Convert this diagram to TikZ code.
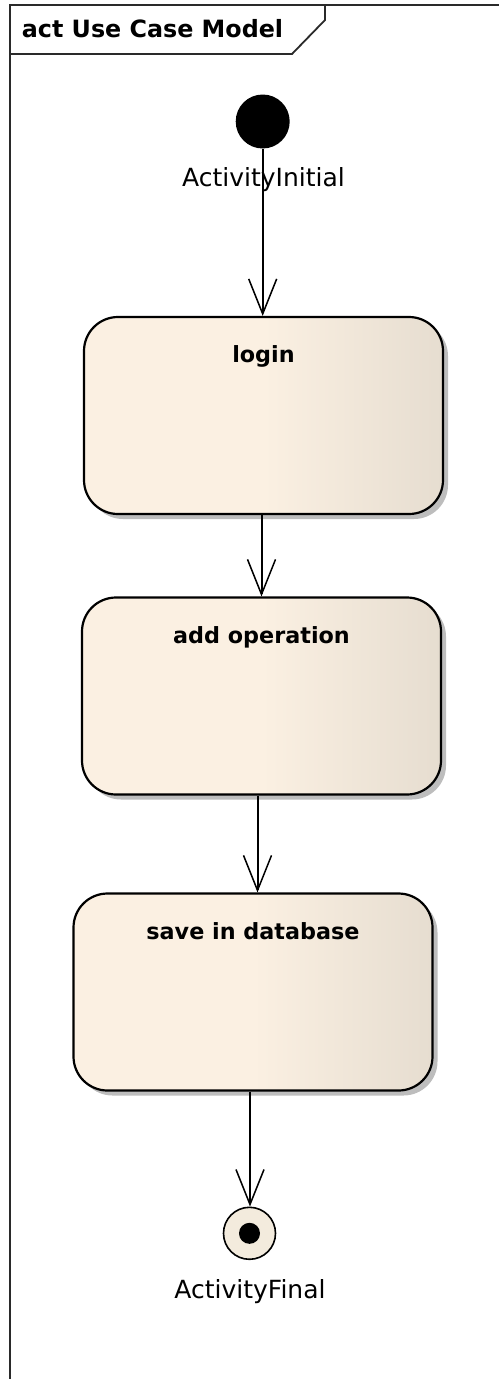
\documentclass[tikz,border=0pt]{standalone}
\usepackage{fontspec}
\setmainfont{DejaVu Sans}
\usetikzlibrary{arrows.meta,shadows}
\definecolor{boxA}{HTML}{FBF0E2}
\definecolor{boxB}{HTML}{E6DDD0}
\definecolor{shadowc}{HTML}{BDBDBD}
\definecolor{finalc}{HTML}{F3EBDD}
\definecolor{framec}{HTML}{2A2A2A}
\begin{document}
\begin{tikzpicture}[x=1pt,y=-1pt,
  actbox/.style={draw=black, line width=2.2pt, rounded corners=34pt,
    left color=boxA, right color=boxB, middle color=boxA,
    minimum width=359pt, minimum height=197pt, inner sep=0pt,
    drop shadow={shadow xshift=5pt, shadow yshift=-5pt, fill=shadowc, opacity=1}},
  boxlabel/.style={anchor=base, font=\bfseries\fontsize{22.3}{25}\selectfont, inner sep=0pt},
  nodelabel/.style={font=\fontsize{25}{28}\selectfont, inner sep=0pt, text=black},
  flow/.style={line width=2pt, -{Straight Barb[length=35pt,width=28pt,line width=1.5pt]}},
  frameline/.style={line width=2.4pt, draw=framec}]
\useasboundingbox (0,0) rectangle (499,1379);
% frame
\draw[frameline] (10,1379) -- (10,5) -- (499,5);
\draw[frameline, line width=1.8pt] (10,54) -- (292,54) -- (325,20) -- (325,5);
\node[anchor=base, font=\bfseries\fontsize{23.8}{27}\selectfont, inner sep=0pt] (title) at (152.5,37) {act Use Case Model};
% initial
\node[circle, fill=black, minimum size=54pt, inner sep=0pt] (init) at (262.7,121.5) {};
\node[nodelabel] (initL) at (263.5,180) {ActivityInitial};
% boxes
\node[actbox] (login) at (263.5,415.5) {};
\node[boxlabel] (loginT) at ([yshift=-47pt]login.north) {login};
\node[actbox] (addop) at (261.5,696) {};
\node[boxlabel] (addopT) at ([yshift=-47pt]addop.north) {add operation};
\node[actbox] (save) at (253,992) {};
\node[boxlabel] (saveT) at ([yshift=-47pt]save.north) {save in database};
% final
\node[circle, draw=black, line width=1.6pt, fill=finalc, minimum size=52pt, inner sep=0pt] (final) at (249.5,1233.3) {};
\node[circle, fill=black, minimum size=21pt, inner sep=0pt] (finalDot) at (final) {};
\node[nodelabel] (finalL) at (250,1292) {ActivityFinal};
% flows
\draw[flow] (init.south) -- (init.south |- login.north);
\draw[flow] ([xshift=-2pt]login.south) -- ([xshift=-2pt]login.south |- addop.north);
\draw[flow] ([xshift=-4pt]addop.south) -- ([xshift=-4pt]addop.south |- save.north);
\draw[flow] ([xshift=-3pt]save.south) -- ([xshift=-3pt]save.south |- final.north);
\end{tikzpicture}
\end{document}
